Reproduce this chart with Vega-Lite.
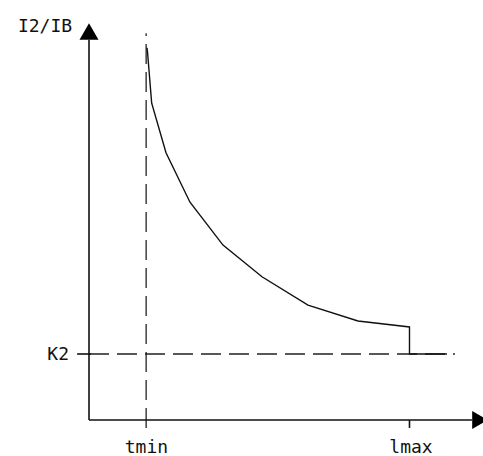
{
  "$schema": "https://vega.github.io/schema/vega-lite/v6.json",
  "width": 483,
  "height": 456,
  "autosize": "none",
  "padding": 0,
  "background": "white",
  "config": {"view": {"stroke": null}},
  "datasets": {
    "axes": [
      {"t": 0, "t2": 0, "y": 0, "y2": 5.76},
      {"t": 0, "t2": 119.3, "y": 0, "y2": 0},
      {"t": -3.7, "t2": 0.6, "y": 1, "y2": 1},
      {"t": 99.84, "t2": 99.84, "y": 0, "y2": -0.12}
    ],
    "guides": [
      {"t": 0, "t2": 114, "y": 1, "y2": 1},
      {"t": 17.8, "t2": 17.8, "y": -0.12, "y2": 5.86}
    ],
    "curve": [
      {"i": 0, "t": 18.07, "ratio": 5.64},
      {"i": 1, "t": 18.22, "ratio": 5.58},
      {"i": 2, "t": 19.53, "ratio": 4.80},
      {"i": 3, "t": 23.99, "ratio": 4.05},
      {"i": 4, "t": 31.46, "ratio": 3.30},
      {"i": 5, "t": 41.74, "ratio": 2.65},
      {"i": 6, "t": 53.89, "ratio": 2.17},
      {"i": 7, "t": 68.22, "ratio": 1.74},
      {"i": 8, "t": 83.80, "ratio": 1.50},
      {"i": 9, "t": 99.84, "ratio": 1.41},
      {"i": 10, "t": 99.84, "ratio": 1.0},
      {"i": 11, "t": 111.5, "ratio": 1.0}
    ],
    "labels": [
      {"label": "I2/IB", "t": -13.7, "y": 5.88},
      {"label": "K2", "t": -9.6, "y": 0.91},
      {"label": "tmin", "t": 17.9, "y": -0.5},
      {"label": "lmax", "t": 100.3, "y": -0.5}
    ]
  },
  "layer": [
    {
      "data": {"name": "guides"},
      "mark": {"type": "rule", "strokeDash": [20, 8], "strokeWidth": 1.3, "color": "#222"},
      "encoding": {
        "x": {"field": "t", "type": "quantitative", "scale": {"domain": [-27.726, 122.741], "nice": false, "zero": false}, "axis": null},
        "x2": {"field": "t2"},
        "y": {"field": "y", "type": "quantitative", "scale": {"domain": [-0.5455, 6.3636], "nice": false, "zero": false}, "axis": null},
        "y2": {"field": "y2"}
      }
    },
    {
      "data": {"name": "axes"},
      "mark": {"type": "rule", "strokeWidth": 1.6, "color": "#111"},
      "encoding": {
        "x": {"field": "t", "type": "quantitative"},
        "x2": {"field": "t2"},
        "y": {"field": "y", "type": "quantitative"},
        "y2": {"field": "y2"}
      }
    },
    {
      "data": {"name": "curve"},
      "mark": {"type": "line", "strokeWidth": 1.4, "color": "#111"},
      "encoding": {
        "x": {"field": "t", "type": "quantitative"},
        "y": {"field": "ratio", "type": "quantitative"},
        "order": {"field": "i", "type": "quantitative"}
      }
    },
    {
      "data": {"values": [{"t": 0, "y": 5.886}]},
      "mark": {"type": "point", "shape": "triangle-up", "filled": true, "size": 361, "color": "#000", "opacity": 1},
      "encoding": {
        "x": {"field": "t", "type": "quantitative"},
        "y": {"field": "y", "type": "quantitative"}
      }
    },
    {
      "data": {"values": [{"t": 121.8, "y": 0}]},
      "mark": {"type": "point", "shape": "triangle-right", "filled": true, "size": 324, "color": "#000", "opacity": 1},
      "encoding": {
        "x": {"field": "t", "type": "quantitative"},
        "y": {"field": "y", "type": "quantitative"}
      }
    },
    {
      "data": {"name": "labels"},
      "mark": {"type": "text", "font": "DejaVu Sans Mono", "fontSize": 18, "fontWeight": "normal", "align": "center", "baseline": "alphabetic", "color": "#111"},
      "encoding": {
        "x": {"field": "t", "type": "quantitative"},
        "y": {"field": "y", "type": "quantitative"},
        "text": {"field": "label"}
      }
    }
  ]
}
